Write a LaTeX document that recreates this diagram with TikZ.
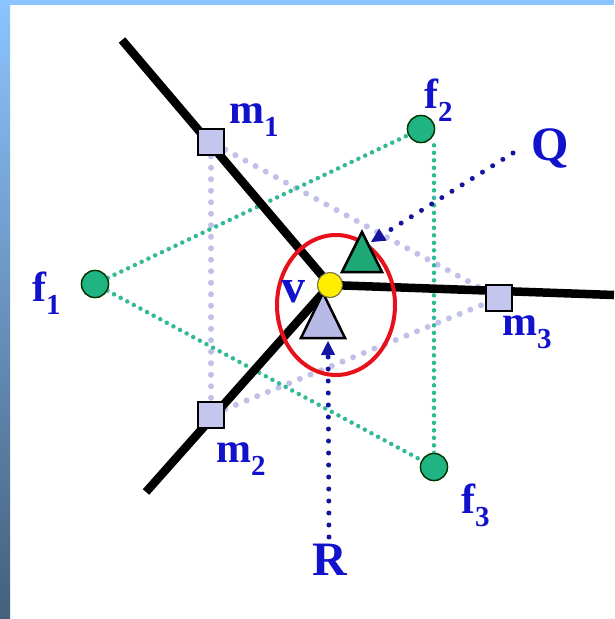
\documentclass[tikz,border=0pt]{standalone}
\usepackage{fontspec}
\setmainfont{Liberation Serif}
\usetikzlibrary{arrows.meta,calc,shapes.geometric}
\definecolor{lblue}{RGB}{18,18,205}
\definecolor{dotblue}{RGB}{20,20,160}
\definecolor{fgreen}{RGB}{32,180,130}
\definecolor{tgreen}{RGB}{30,168,118}
\definecolor{dgreen}{RGB}{50,185,150}
\definecolor{lav}{RGB}{196,198,238}
\definecolor{tlav}{RGB}{184,186,230}
\definecolor{dlav}{RGB}{192,192,232}
\definecolor{vyellow}{RGB}{255,238,0}
\definecolor{ered}{RGB}{232,16,26}
\definecolor{bartop}{RGB}{140,196,255}
\definecolor{barmid}{RGB}{104,146,196}
\definecolor{barbot}{RGB}{68,96,124}
\newcommand\sublbl[2]{#1\raisebox{-13pt}{\fontsize{29}{29}\selectfont #2}}
\begin{document}
\begin{tikzpicture}[x=1pt,y=-1pt,
  lbl/.style={text=lblue,font=\fontsize{42}{42}\selectfont\bfseries,inner sep=0pt,anchor=base west},
  biglbl/.style={lbl,font=\fontsize{48}{48}\selectfont\bfseries},
  edgeline/.style={line width=8.5pt,black},
  sqnode/.style={draw=black,line width=2.5pt,fill=lav,minimum size=26pt,inner sep=0pt},
  fnode/.style={circle,draw=black!80!green,line width=1.3pt,fill=fgreen,minimum size=27pt,inner sep=0pt},
  vnode/.style={circle,draw=black!60!yellow,line width=1pt,fill=vyellow,minimum size=25pt,inner sep=0pt},
  greendot/.style={dgreen,line width=4.5pt,line cap=round,dash pattern=on 0pt off 7.5pt},
  lavdot/.style={dlav,line width=6pt,line cap=round,dash pattern=on 0pt off 11.5pt},
  bluedot/.style={dotblue,line width=5pt,line cap=round,dash pattern=on 0pt off 12pt},
  bluetip/.style={-{Triangle[length=14pt,width=14pt]},dotblue,line width=1pt,solid}]
\useasboundingbox (0,0) rectangle (614,619);
% frame
\fill[white] (0,0) rectangle (614,619);
\shade[top color=bartop,middle color=barmid,bottom color=barbot] (0,0) rectangle (10,619);
\fill[bartop] (0,0) rectangle (614,5);
% coordinates
\coordinate (e1) at (122,40);
\coordinate (e2) at (614,295);
\coordinate (e3) at (146,492);
\node[vnode] (v) at (330,285) {};
\node[sqnode] (m1) at (211,142) {};
\node[sqnode] (m2) at (211,415) {};
\node[sqnode] (m3) at (499,298) {};
\node[fnode] (f1) at (95,284) {};
\node[fnode] (f2) at (421,129) {};
\node[fnode] (f3) at (434,467) {};
% dotted triangles
\draw[lavdot] (m1) -- (m2);
\draw[lavdot] (m1) -- (m3);
\draw[lavdot] (m2) -- (m3);
\draw[greendot] (f1) -- (f2);
\draw[greendot] (f1) -- (f3);
\draw[greendot] (f3.north) -- (f3.north |- f2.south);
% edges
\draw[edgeline] (e1) -- (v.center);
\draw[edgeline] (v.center) -- (e2);
\draw[edgeline] (v.center) -- (e3);
% redraw nodes on top
\node[sqnode] at (m1) {};
\node[sqnode] at (m2) {};
\node[sqnode] at (m3) {};
\node[fnode] at (f1) {};
\node[fnode] at (f2) {};
\node[fnode] at (f3) {};
% ellipse
\node[ellipse,draw=ered,line width=4pt,minimum width=118pt,minimum height=140pt,inner sep=0pt] (ell) at (336,305) {};
% triangles
\coordinate (gt) at (362,232);
\coordinate (lt) at (323,293);
\draw[fill=tgreen,line width=2.5pt,line join=miter] (gt) -- (382,272) -- (342,272) -- cycle;
\draw[fill=tlav,line width=2.5pt,line join=miter] (lt) -- (345,338) -- (301,338) -- cycle;
\node[vnode] at (v) {};
% arrows
\coordinate (qs) at (513,153);
\coordinate (qt) at (371,242);
\coordinate (rs) at (329,537);
\coordinate (rt) at (328,341);
\draw[bluedot] (qs) -- ($(qt)!12pt!(qs)$);
\draw[bluetip] ($(qt)!14pt!(qs)$) -- (qt);
\draw[bluedot] (rs) -- ($(rt)!12pt!(rs)$);
\draw[bluetip] ($(rt)!14pt!(rs)$) -- (rt);
% labels
\node[lbl] (lm1) at (229,123) {\sublbl{m}{1}};
\node[lbl] (lm2) at (216,462) {\sublbl{m}{2}};
\node[lbl] (lm3) at (502,335) {\sublbl{m}{3}};
\node[lbl] (lf1) at (32,301) {\sublbl{f}{1}};
\node[lbl] (lf2) at (424,108) {\sublbl{f}{2}};
\node[lbl] (lf3) at (461,513) {\sublbl{f}{3}};
\node[biglbl] (lv) at (281,302) {v};
\node[biglbl] (lq) at (531,160) {Q};
\node[biglbl] (lr) at (312,575) {R};
\end{tikzpicture}
\end{document}
